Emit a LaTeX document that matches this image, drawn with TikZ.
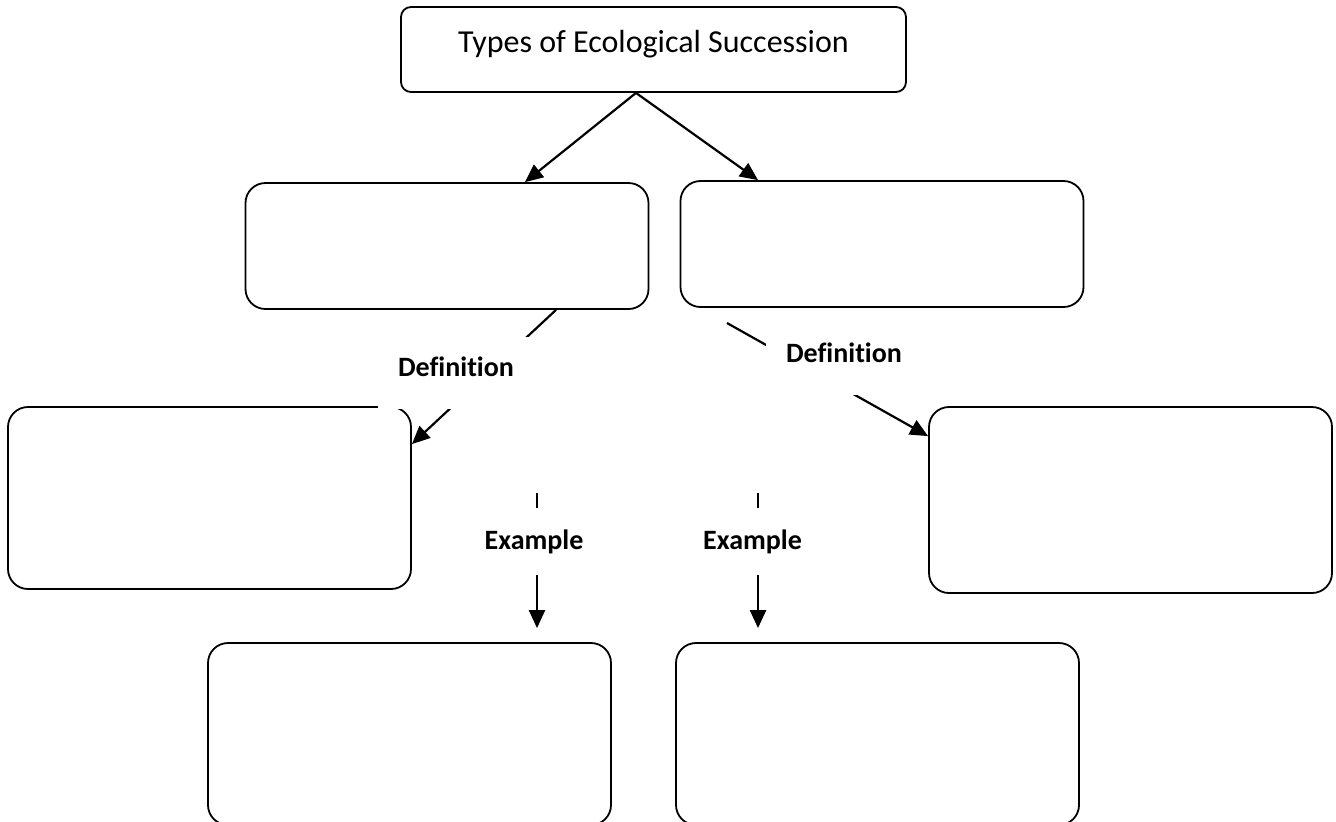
\documentclass[tikz,border=0pt]{standalone}
\usepackage{fontspec}
\setmainfont{Carlito}[Ligatures=CommonOff]
\usetikzlibrary{arrows.meta,calc}

\begin{document}
\begin{tikzpicture}[
		x=0.5pt, y=-0.5pt,
		titlebox/.style={draw=black, line width=0.9pt, rounded corners=5pt, minimum width=252.5pt, inner ysep=12.5pt, text height=10.3pt, text depth=7.2pt, font=\fontsize{16}{19}\selectfont},
		blankbox/.style={draw=black, line width=0.9pt, rounded corners=10pt, minimum width=201.5pt, fill=white},
		linklabel/.style={fill=white, minimum width=78pt, inner ysep=10pt, text height=9.5pt, text depth=6.5pt, font=\fontsize{14}{17}\selectfont\bfseries},
		examplelabel/.style={fill=white, minimum width=60pt, minimum height=33.5pt, font=\fontsize{14}{17}\selectfont\bfseries},
		arrow/.style={-{Triangle[length=9pt, width=8pt]}, line width=1.1pt},
	]
	
		\useasboundingbox (0,0) rectangle (1336,821);
		\clip (0,0) rectangle (1336,821);
	
		%Nodes
		\node[titlebox]							(types)	at (653.5,49.5)	{Types of Ecological Succession};
		\node[blankbox, minimum height=63pt]	(typeL)	at (447,246)	{};
		\node[blankbox, minimum height=63pt]	(typeR)	at (882,244)	{};
		\node[blankbox, minimum height=91pt]	(defL)	at (209.5,498)	{};
		\node[blankbox, minimum height=93pt]	(defR)	at (1130.5,500)	{};
		\node[blankbox, minimum height=91pt]	(exL)	at (409.5,734)	{};
		\node[blankbox, minimum height=91pt]	(exR)	at (877.5,734)	{};
	
		\coordinate (defRstart)	at (727,323);
		\coordinate (exLstart)	at (537,493);
		\coordinate (exRstart)	at (758,493);
	
		%Lines
		\draw[arrow]	($(types.south)+(-17.5,0)$) -- ($(typeL.north)+(78,0)$);
		\draw[arrow]	($(types.south)+(-17.5,0)$) -- ($(typeR.north)+(-124,0)$);
		\draw[arrow]	($(typeL.south)+(109,0)$) -- ($(defL.north east)+(0,38)$);
		\draw[arrow]	(defRstart) -- ($(defR.north west)+(0,30)$);
		\draw[arrow]	(exLstart) -- ($(exL.north)+(127.5,-14)$);
		\draw[arrow]	(exRstart) -- ($(exR.north)+(-119.5,-14)$);
	
		%Labels
		\node[linklabel]		(defLlabel)	at (456,373)		{Definition};
		\node[linklabel]		(defRlabel)	at (844,359)		{Definition};
		\node[examplelabel]		(exLlabel)	at (534,541.5)		{Example};
		\node[examplelabel]		(exRlabel)	at (752.5,541.5)	{Example};
	
	\end{tikzpicture}
\end{document}
